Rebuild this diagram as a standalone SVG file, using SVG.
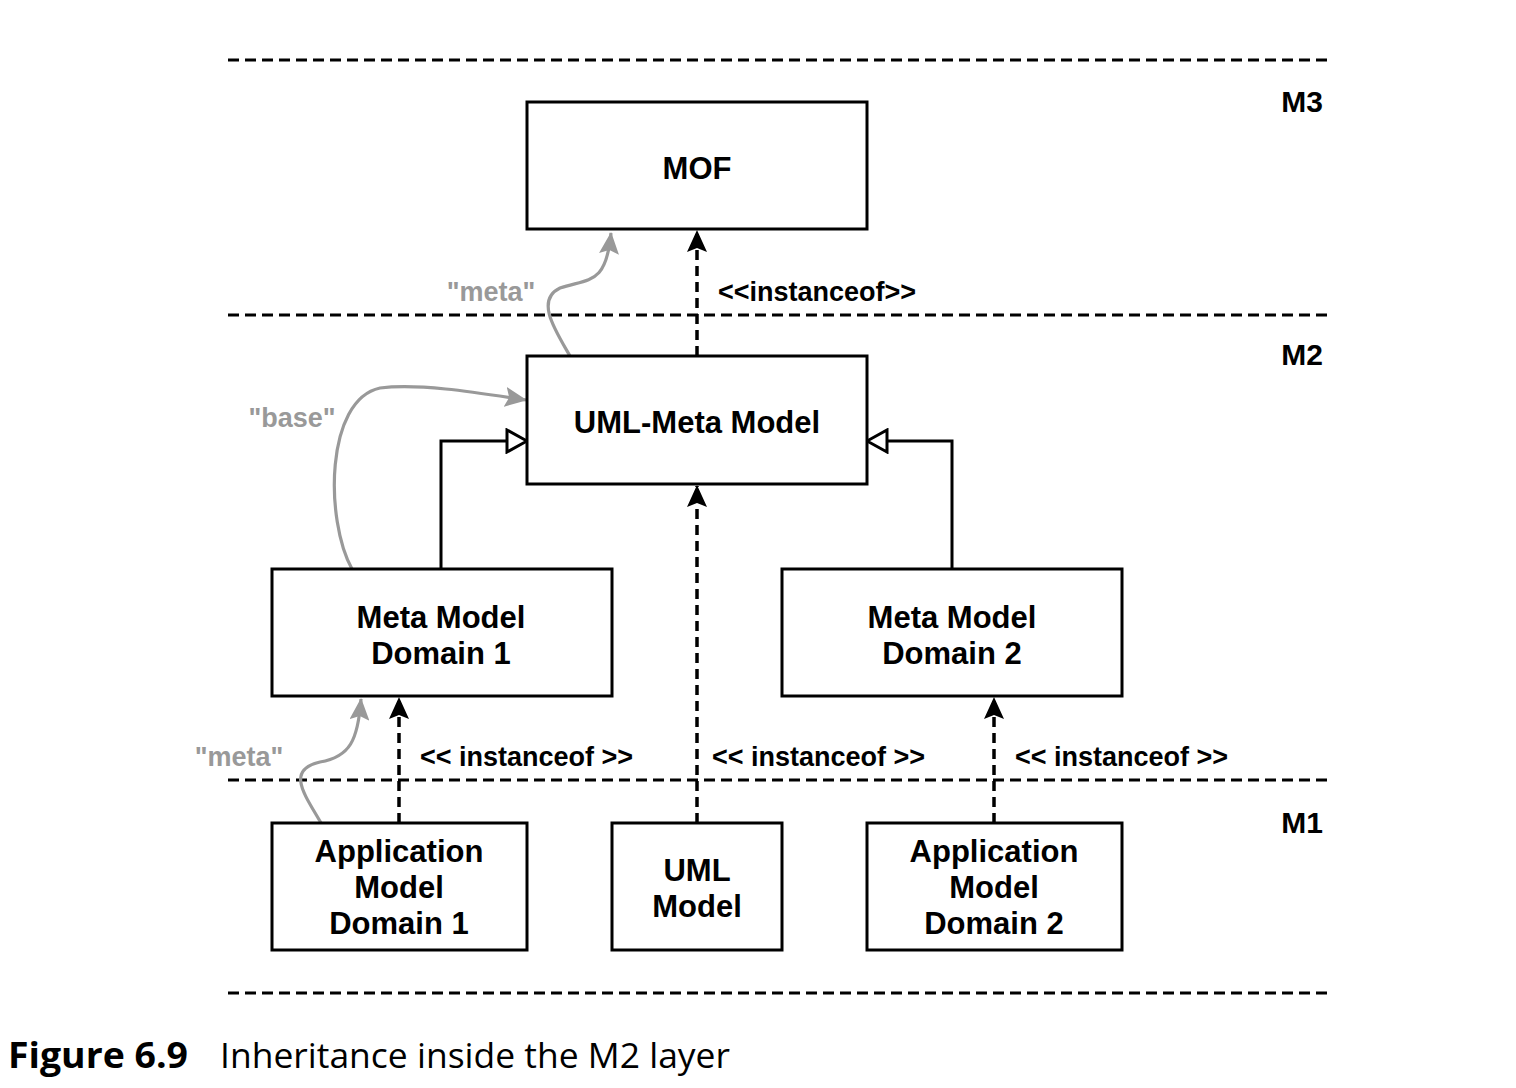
<svg xmlns="http://www.w3.org/2000/svg" width="1516" height="1088" viewBox="0 0 1516 1088">
<style>
.layer{stroke:#000;stroke-width:3.2;stroke-dasharray:11 6;fill:none}
.box{fill:#fff;stroke:#000;stroke-width:3}
.nt{font-family:"Liberation Sans",Arial,sans-serif;font-weight:bold;font-size:31px;text-anchor:middle;fill:#000}
.lbl{font-family:"Liberation Sans",Arial,sans-serif;font-weight:bold;font-size:27px;fill:#000}
.ml{font-family:"Liberation Sans",Arial,sans-serif;font-weight:bold;font-size:30px;text-anchor:middle;fill:#000}
.glbl{font-family:"Liberation Sans",Arial,sans-serif;font-weight:bold;font-size:27px;fill:#999;text-anchor:middle}
.dep{stroke:#000;stroke-width:3.5;stroke-dasharray:10 6;fill:none}
.gen{stroke:#000;stroke-width:3;fill:none}
.gray{stroke:#999;stroke-width:3.2;fill:none}
.cap{font-family:"Open Sans","Noto Sans",sans-serif;font-size:35px;fill:#000}
</style>
<defs>
<marker id="af" viewBox="0 0 22 20" refX="21" refY="10" markerWidth="22" markerHeight="20" markerUnits="userSpaceOnUse" orient="auto">
<path d="M0,0 L22,10 L0,20 L4,10 Z" fill="#000"/>
</marker>
<marker id="ag" viewBox="0 0 22 20" refX="21" refY="10" markerWidth="22" markerHeight="20" markerUnits="userSpaceOnUse" orient="auto">
<path d="M0,0 L22,10 L0,20 L4,10 Z" fill="#999"/>
</marker>
<marker id="tri" viewBox="0 0 24 26" refX="22" refY="13" markerWidth="24" markerHeight="26" markerUnits="userSpaceOnUse" orient="auto">
<path d="M2,2 L22,13 L2,24 Z" fill="#fff" stroke="#000" stroke-width="3"/>
</marker>
</defs>
<rect width="1516" height="1088" fill="#fff"/>
<g id="layers">
<line class="layer" x1="228" y1="60" x2="1332" y2="60"/>
<line class="layer" x1="228" y1="315" x2="1332" y2="315"/>
<line class="layer" x1="228" y1="780" x2="1332" y2="780"/>
<line class="layer" x1="228" y1="993" x2="1332" y2="993"/>
<text class="ml" x="1302" y="112">M3</text>
<text class="ml" x="1302" y="365">M2</text>
<text class="ml" x="1302" y="833">M1</text>
</g>
<g id="connectors">
<path class="dep" d="M697,356 V231" marker-end="url(#af)"/>
<path class="dep" d="M697,823 V486" marker-end="url(#af)"/>
<path class="dep" d="M399,823 V698" marker-end="url(#af)"/>
<path class="dep" d="M994,823 V698" marker-end="url(#af)"/>
<path class="gen" d="M441,569 V441 H527" marker-end="url(#tri)"/>
<path class="gen" d="M952,569 V441 H867" marker-end="url(#tri)"/>
<path class="gray" d="M570,356 C555,330 535,300 560,288 C590,278 606,285 611,233" marker-end="url(#ag)"/>
<path class="gray" d="M352,569 C325,520 325,400 380,388 C420,383 480,393 526,400" marker-end="url(#ag)"/>
<path class="gray" d="M321,823 C305,795 285,770 320,762 C350,757 358,740 361,699" marker-end="url(#ag)"/>
<text class="lbl" x="718" y="301">&lt;&lt;instanceof&gt;&gt;</text>
<text class="lbl" x="420" y="766">&lt;&lt; instanceof &gt;&gt;</text>
<text class="lbl" x="712" y="766">&lt;&lt; instanceof &gt;&gt;</text>
<text class="lbl" x="1015" y="766">&lt;&lt; instanceof &gt;&gt;</text>
<text class="glbl" x="491" y="301">"meta"</text>
<text class="glbl" x="292" y="427">"base"</text>
<text class="glbl" x="239" y="766">"meta"</text>
</g>
<g id="mof">
<rect class="box" x="527" y="102" width="340" height="127"/>
<text class="nt" x="697" y="179">MOF</text>
</g>
<g id="uml-meta-model">
<rect class="box" x="527" y="356" width="340" height="128"/>
<text class="nt" x="697" y="433">UML-Meta Model</text>
</g>
<g id="meta-model-domain-1">
<rect class="box" x="272" y="569" width="340" height="127"/>
<text class="nt" x="441" y="628">Meta Model</text>
<text class="nt" x="441" y="664">Domain 1</text>
</g>
<g id="meta-model-domain-2">
<rect class="box" x="782" y="569" width="340" height="127"/>
<text class="nt" x="952" y="628">Meta Model</text>
<text class="nt" x="952" y="664">Domain 2</text>
</g>
<g id="application-model-domain-1">
<rect class="box" x="272" y="823" width="255" height="127"/>
<text class="nt" x="399" y="862">Application</text>
<text class="nt" x="399" y="898">Model</text>
<text class="nt" x="399" y="934">Domain 1</text>
</g>
<g id="uml-model">
<rect class="box" x="612" y="823" width="170" height="127"/>
<text class="nt" x="697" y="881">UML</text>
<text class="nt" x="697" y="917">Model</text>
</g>
<g id="application-model-domain-2">
<rect class="box" x="867" y="823" width="255" height="127"/>
<text class="nt" x="994" y="862">Application</text>
<text class="nt" x="994" y="898">Model</text>
<text class="nt" x="994" y="934">Domain 2</text>
</g>
<g id="caption">
<text class="cap" y="1068"><tspan x="8" font-weight="bold" textLength="180" lengthAdjust="spacingAndGlyphs">Figure 6.9</tspan><tspan x="220" textLength="510" lengthAdjust="spacingAndGlyphs">Inheritance inside the M2 layer</tspan></text>
</g>
</svg>
